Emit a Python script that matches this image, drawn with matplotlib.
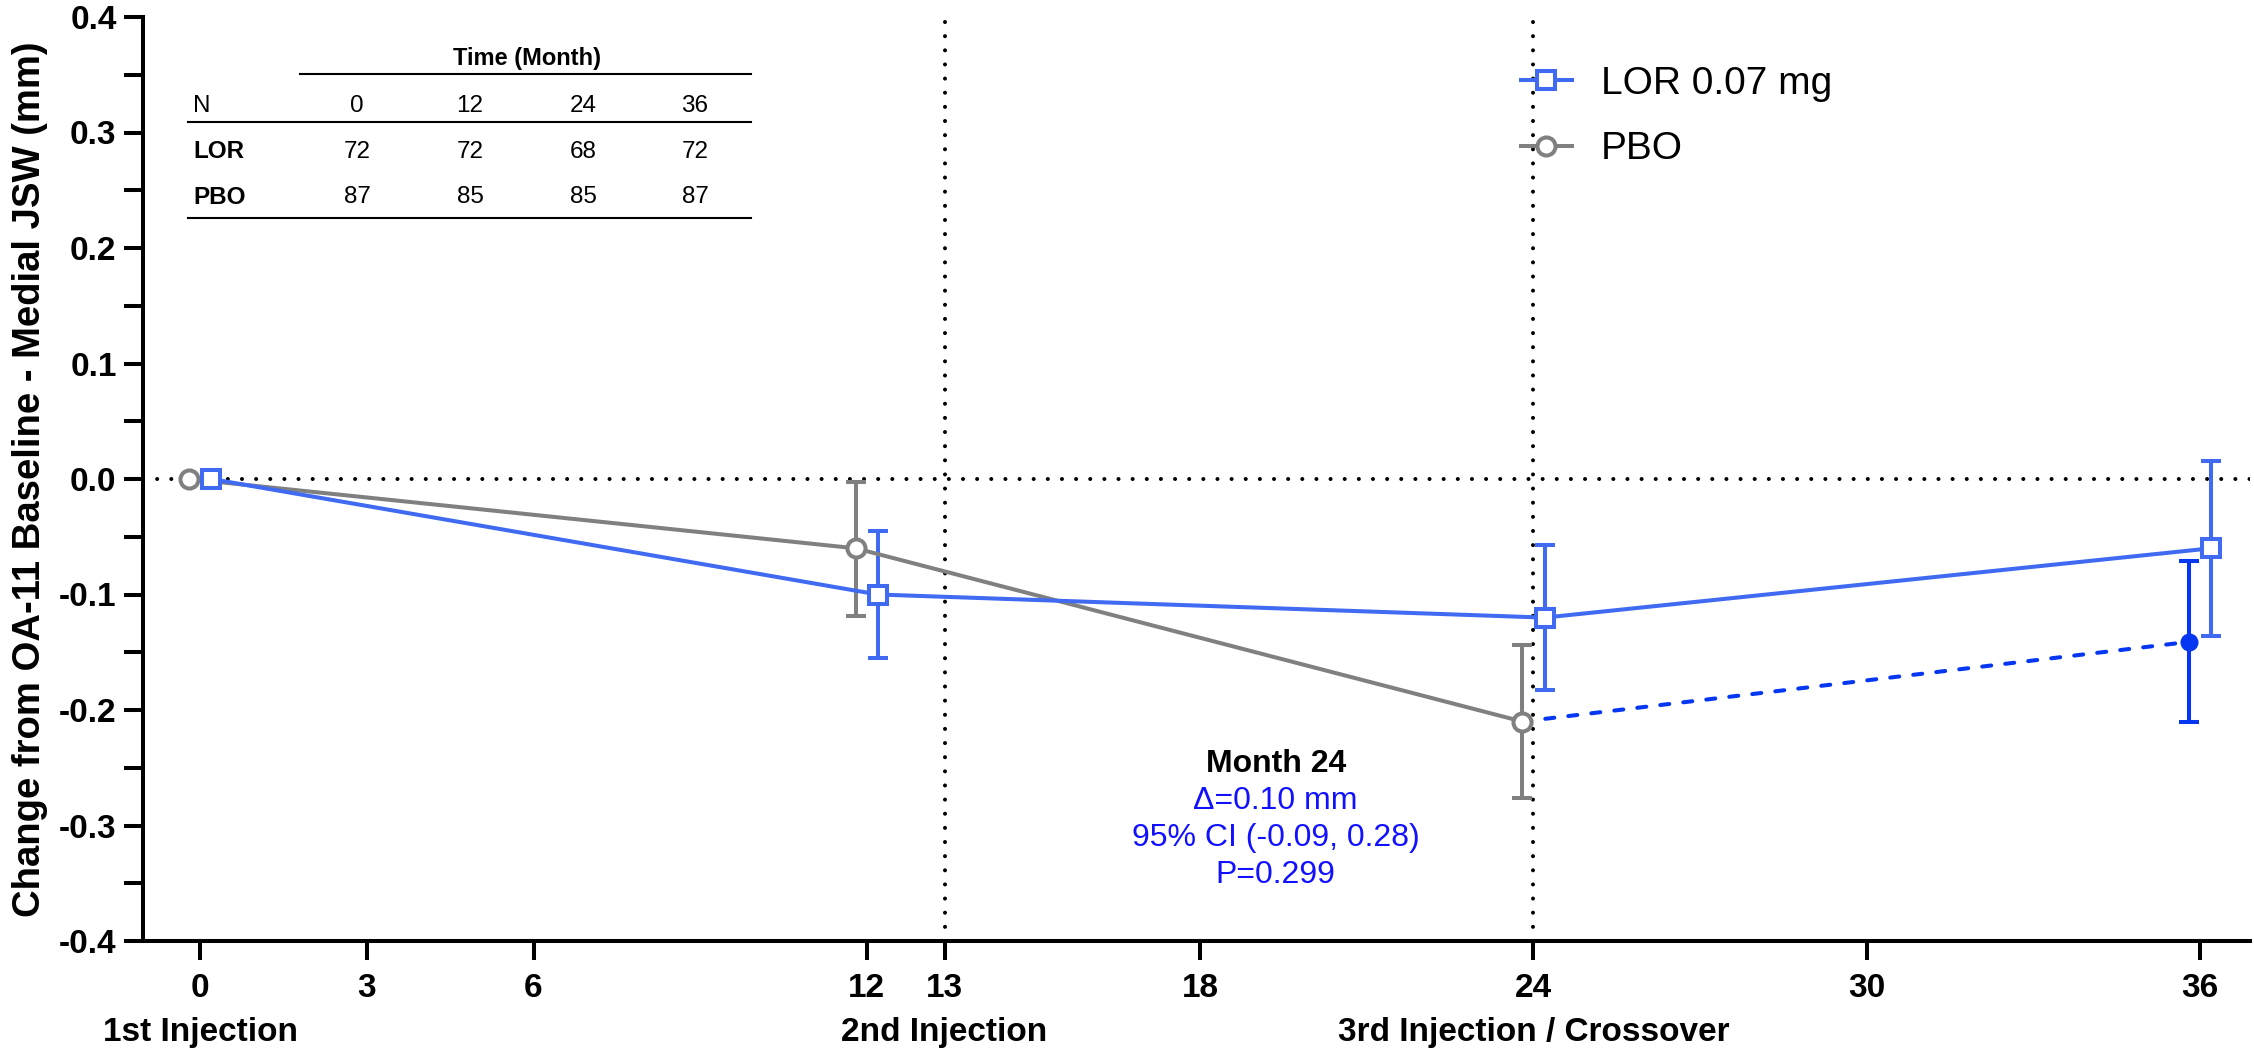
import numpy as np
import matplotlib
matplotlib.use("Agg")
import matplotlib.pyplot as plt
from matplotlib.lines import Line2D

plt.rcParams['font.family'] = ['Liberation Sans', 'DejaVu Sans']

# data (change from baseline, mm)
months = [0, 12, 24, 36]
lor_mean = [0.0, -0.100, -0.120, -0.060]
lor_lo = [0.0, -0.155, -0.183, -0.136]
lor_hi = [0.0, -0.045, -0.057, 0.016]

pbo_months = [0, 12, 24]
pbo_mean = [0.0, -0.060, -0.210]
pbo_lo = [0.0, -0.119, -0.276]
pbo_hi = [0.0, -0.003, -0.144]

# placebo -> LOR crossover after month 24
cross_months = [24, 36]
cross_mean = [-0.210, -0.141]
cross_lo = [-0.210, -0.210]
cross_hi = [-0.210, -0.071]

# the "13" tick / 2nd injection sits a bit right of month 13 in the source
xticks = [0, 3, 6, 12, 13.4, 18, 24, 30, 36]
xtick_labels = ['0', '3', '6', '12', '13', '18', '24', '30', '36']
injection_x = [0, 13.4, 24]
injection_labels = ['1st Injection', '2nd Injection', '3rd Injection / Crossover']
injection_lines = [13.4, 24]

yticks = np.arange(-4, 5) / 10

table_cols = ['0', '12', '24', '36']
table_rows = {'LOR': ['72', '72', '68', '72'], 'PBO': ['87', '85', '85', '87']}

annot_title = 'Month 24'
annot_lines = ['Δ=0.10 mm', '95% CI (-0.09, 0.28)', 'P=0.299']

LOR_C = '#3F6AF1'
PBO_C = '#808080'
CROSS_C = '#0536F2'
TXT_BLUE = '#1111FF'

W, H = 2254, 1052
dodge = 0.2
lw = 2.9


def fx(px):
    return px / W


def fy(py):
    return 1 - py / H


def main():
    fig = plt.figure(figsize=(W / 100, H / 100), dpi=100)
    ax = fig.add_axes([fx(143), fy(941), fx(2250) - fx(143), fy(17) - fy(941)])
    ax.set_xlim(-1.03, 36.9)
    ax.set_ylim(-0.4, 0.4)

    # reference lines
    dots = dict(color='black', lw=lw, linestyle=(0, (0.01, 3.5)),
                dash_capstyle='round', zorder=1)
    ax.axhline(0, **dots)
    for xv in injection_lines:
        ax.axvline(xv, **dots)

    m = np.array(months, dtype=float) + dodge
    pm = np.array(pbo_months, dtype=float) - dodge
    cm = np.array(cross_months, dtype=float) - dodge

    eb = dict(fmt='none', elinewidth=lw, capsize=7.5, capthick=lw, zorder=2)
    # errors (skip baseline which has none)
    ax.errorbar(pm[1:], np.array(pbo_mean[1:]),
                yerr=[np.array(pbo_mean[1:]) - np.array(pbo_lo[1:]),
                      np.array(pbo_hi[1:]) - np.array(pbo_mean[1:])],
                ecolor=PBO_C, **eb)
    ax.errorbar(m[1:], np.array(lor_mean[1:]),
                yerr=[np.array(lor_mean[1:]) - np.array(lor_lo[1:]),
                      np.array(lor_hi[1:]) - np.array(lor_mean[1:])],
                ecolor=LOR_C, **eb)
    ax.errorbar(cm[1:], np.array(cross_mean[1:]),
                yerr=[np.array(cross_mean[1:]) - np.array(cross_lo[1:]),
                      np.array(cross_hi[1:]) - np.array(cross_mean[1:])],
                ecolor=CROSS_C, **eb)

    ax.plot(cm, cross_mean, color=CROSS_C, lw=lw, linestyle=(0, (2.25, 3.5)),
            dash_capstyle='round', zorder=3)
    ax.plot(cm[1:], cross_mean[1:], 'o', color=CROSS_C, ms=13, mew=0, zorder=5)

    pbo_line, = ax.plot(pm, pbo_mean, color=PBO_C, lw=lw, marker='o', ms=13,
                        mew=lw, mfc='white', mec=PBO_C, zorder=4, label='PBO')
    lor_line, = ax.plot(m, lor_mean, color=LOR_C, lw=lw, marker='s', ms=13,
                        mew=lw, mfc='white', mec=LOR_C, zorder=4, label='LOR 0.07 mg')

    # axes styling
    for side in ['top', 'right']:
        ax.spines[side].set_visible(False)
    for side in ['left', 'bottom']:
        ax.spines[side].set_linewidth(lw)
    ax.set_xticks(xticks)
    ax.set_xticklabels(xtick_labels, fontsize=24, fontweight='bold')
    ax.set_yticks(yticks)
    ax.set_yticks(yticks[:-1] + 0.05, minor=True)
    ax.set_yticklabels([f'{v:.1f}' for v in yticks], fontsize=24, fontweight='bold')
    ax.tick_params(axis='both', which='both', width=lw, length=14)
    ax.tick_params(axis='x', pad=9)
    ax.tick_params(axis='y', pad=5)
    ax.set_ylabel('Change from OA-11 Baseline - Medial JSW (mm)', fontsize=27.5,
                  fontweight='bold', labelpad=8)

    # second row of x labels: injection events
    ax_h = fy(17) - fy(941)
    for xv, lab in zip(injection_x, injection_labels):
        ax.text(xv, -(1041 - 941) / H / ax_h, lab, transform=ax.get_xaxis_transform(),
                ha='center', va='baseline', fontsize=24, fontweight='bold')

    ax.legend(handles=[lor_line, pbo_line], loc='upper left',
              bbox_to_anchor=(fx(1521), fy(66)), bbox_transform=fig.transFigure,
              frameon=False, fontsize=28, handlelength=1.3, handletextpad=0.75,
              labelspacing=0.75, borderpad=0, borderaxespad=0)

    # annotation
    ax_x = 19.36
    ax.text(ax_x, -0.254, annot_title, ha='center', va='baseline', fontsize=23,
            fontweight='bold', color='black')
    for i, line in enumerate(annot_lines):
        ax.text(ax_x, -0.286 - i * 0.0318, line, ha='center', va='baseline',
                fontsize=23, color=TXT_BLUE)

    # N table in upper-left corner
    col_x = [357, 470, 583, 695]
    fig.text(fx(527), fy(58), 'Time (Month)', ha='center', va='center',
             fontsize=17, fontweight='bold')
    for y0, x0 in [(74, 300), (122, 188), (218, 188)]:
        fig.add_artist(Line2D([fx(x0), fx(751)], [fy(y0), fy(y0)], color='black', lw=1.5))
    fig.text(fx(193), fy(106), 'N', ha='left', va='center', fontsize=17.5)
    for cx, c in zip(col_x, table_cols):
        fig.text(fx(cx), fy(106), c, ha='center', va='center', fontsize=17.5)
    for ry, (name, vals) in zip([152, 197], table_rows.items()):
        fig.text(fx(193), fy(ry), name, ha='left', va='center', fontsize=17.5,
                 fontweight='bold')
        for cx, v in zip(col_x, vals):
            fig.text(fx(cx), fy(ry), v, ha='center', va='center', fontsize=17.5)

    fig.savefig('out.png', dpi=100)


if __name__ == "__main__":
    main()
